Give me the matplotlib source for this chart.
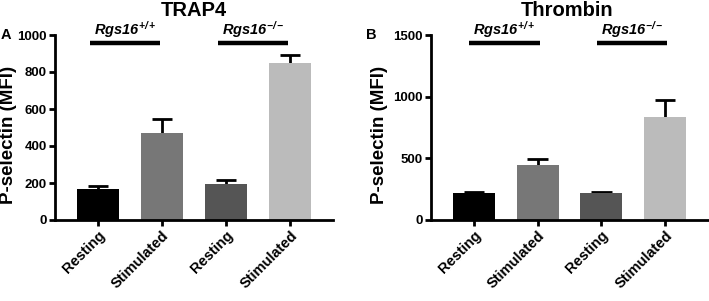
import numpy as np
import matplotlib
matplotlib.use("Agg")
import matplotlib.pyplot as plt

plt.rcParams['font.family'] = ['Liberation Sans', 'DejaVu Sans']
plt.rcParams['font.weight'] = 'bold'
plt.rcParams['mathtext.fontset'] = 'custom'
plt.rcParams['mathtext.rm'] = 'Liberation Sans:bold:italic'
plt.rcParams['mathtext.it'] = 'Liberation Sans:bold:italic'
plt.rcParams['mathtext.bf'] = 'Liberation Sans:bold:italic'

# data
conditions = ["Resting", "Stimulated", "Resting", "Stimulated"]
groups = [r"$Rgs16^{+/+}$", r"$Rgs16^{-/-}$"]
bar_colors = ["#000000", "#777777", "#555555", "#bbbbbb"]

trap4_mean = [168, 470, 195, 847]
trap4_sem = [16, 76, 19, 45]

thrombin_mean = [216, 446, 222, 833]
thrombin_sem = [8, 49, 8, 140]

panels = [
    # title, letter, means, errors, ymax, ystep, axes rect, group-line shift,
    # letter x (fig), ylabel x (axes)
    ("TRAP4", "A", trap4_mean, trap4_sem, 1000, 200,
     [55 / 709, 81 / 301, 278 / 709, 185 / 301], -0.08, 1 / 709, -0.135),
    ("Thrombin", "B", thrombin_mean, thrombin_sem, 1500, 500,
     [431 / 709, 81 / 301, 277 / 709, 185 / 301], -0.02, 366 / 709, -0.155),
]

fig = plt.figure(figsize=(7.09, 3.01), dpi=100)

for title, letter, means, errs, ymax, ystep, rect, shift, lx, ylx in panels:
    ax = fig.add_axes(rect)
    x = np.arange(len(conditions))
    means = np.array(means)
    errs = np.array(errs)

    # error bars (upper only)
    ax.vlines(x, means, means + errs, color="black", lw=2, zorder=1)
    ax.hlines(means + errs, x - 0.16, x + 0.16, color="black", lw=2, zorder=1)
    ax.bar(x, means, width=0.66, color=bar_colors, zorder=2)

    ax.set_xlim(-0.67, 3.67)
    ax.set_ylim(0, ymax)
    ax.set_yticks(np.arange(0, ymax + 1, ystep))
    ax.set_xticks(x)
    ax.set_xticklabels(conditions, rotation=45, ha="right",
                       rotation_mode="anchor", fontsize=10.5, fontweight="bold")
    for lab in ax.get_yticklabels():
        lab.set_fontsize(9.5)
        lab.set_fontweight("bold")

    for s in ["top", "right"]:
        ax.spines[s].set_visible(False)
    for s in ["left", "bottom"]:
        ax.spines[s].set_linewidth(2)
    ax.tick_params(direction="out", length=4, width=2, pad=2)

    ax.set_ylabel("P-selectin (MFI)", fontsize=13.5, fontweight="bold")
    ax.yaxis.set_label_coords(ylx, 0.46)

    # title centred over the axes, fixed near top of figure
    cx = rect[0] + rect[2] * (0.5 if letter == "A" else 0.49)
    fig.text(cx, 0.965, title, fontsize=14.5, fontweight="bold",
             ha="center", va="center")

    # group bars and labels
    trans = ax.get_xaxis_transform()
    for i, g in enumerate(groups):
        c = 2 * i + 0.5 + shift
        ax.plot([c - 0.55, c + 0.55], [0.957, 0.957], color="black", lw=3.2,
                transform=trans, clip_on=False, solid_capstyle="butt")
        ax.text(c, 1.0, g, transform=trans, ha="center", va="baseline",
                fontsize=10.5)

    fig.text(lx, 1 - 35 / 301, letter, fontsize=10.5, fontweight="bold",
             ha="left", va="center")

fig.savefig("out.png", dpi=100)
